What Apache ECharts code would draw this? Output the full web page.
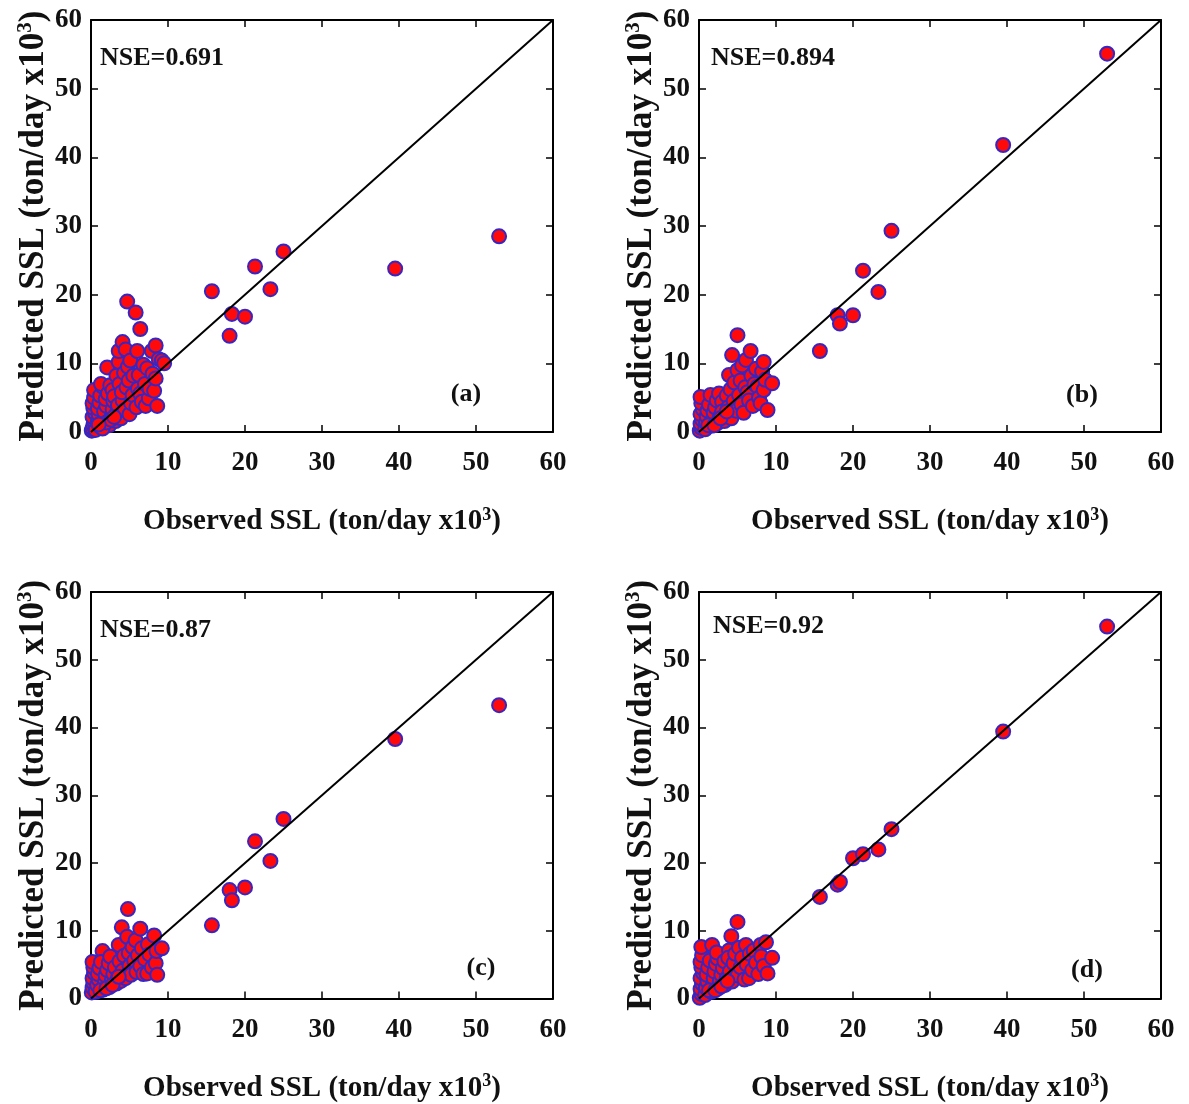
<!DOCTYPE html>
<html>
<head>
<meta charset="utf-8">
<script src="https://cdn.jsdelivr.net/npm/echarts@6/dist/echarts.min.js"></script>
<style>
  html, body { margin: 0; padding: 0; background: #ffffff; }
  #chart { width: 1189px; height: 1104px; }
</style>
</head>
<body>
<div id="chart"></div>
<script>
// Observed SSL of the large events (ton/day x10^3), common to all four models
const highObs = [15.7, 18.0, 18.3, 20.0, 21.3, 23.3, 25.0, 39.5, 53.0];
// Predicted SSL of those events for each model
const highPredA = [20.5, 14.0, 17.2, 16.8, 24.1, 20.8, 26.3, 23.8, 28.5];
const highPredB = [11.8, 17.0, 15.8, 17.0, 23.5, 20.4, 29.3, 41.8, 55.1];
const highPredC = [10.8, 16.0, 14.5, 16.4, 23.2, 20.3, 26.5, 38.3, 43.3];
const highPredD = [15.0, 16.8, 17.2, 20.7, 21.3, 22.0, 25.0, 39.4, 54.9];

// Low-flow pairs [observed, predicted]
const lowA = [
  [0.1,0.2],[0.2,0.5],[0.3,1.0],[0.4,1.5],[0.2,2.2],[0.5,2.8],[0.3,3.5],[0.2,4.2],[0.4,5.0],[0.4,6.1],
  [0.8,0.6],[0.9,1.6],[1.0,2.5],[0.9,3.4],[1.1,4.3],[1.2,5.3],[1.5,6.6],[1.3,7.0],[1.6,1.2],[1.8,2.1],
  [1.7,3.0],[2.0,3.8],[1.9,4.8],[2.2,5.6],[2.1,9.4],[2.5,6.8],[2.4,1.0],[2.7,2.4],[2.8,3.3],[2.9,4.5],
  [2.8,6.1],[3.0,5.2],[3.2,1.6],[3.4,2.8],[3.5,3.9],[3.6,10.2],[3.6,11.8],[3.3,8.2],[3.7,7.0],[3.9,2.0],
  [4.1,4.6],[4.1,13.1],[4.0,5.8],[4.3,8.6],[4.4,3.2],[4.6,6.5],[4.7,19.0],[4.5,12.0],[4.8,9.5],[4.9,7.5],
  [5.0,2.6],[5.1,10.4],[5.2,4.2],[5.4,5.4],[5.5,8.2],[5.8,17.4],[6.0,11.8],[5.9,3.6],[6.1,6.3],[6.2,8.3],
  [6.4,15.0],[6.4,5.6],[6.6,4.4],[6.8,9.8],[7.0,7.0],[7.1,3.8],[7.3,9.3],[7.5,4.9],[7.6,6.3],[7.9,11.8],
  [8.0,8.5],[8.2,6.0],[8.4,12.6],[8.4,7.8],[8.6,3.8],[8.8,10.6],[9.2,10.4],[9.5,10.0],
  [0.6,0.3],[1.2,0.8],[1.5,0.5],[2.0,1.4],[2.6,1.8],[3.0,2.2],[1.0,1.1]
];
const lowB = [
  [0.1,0.2],[0.3,0.6],[0.2,1.2],[0.4,1.8],[0.2,2.6],[0.5,3.3],[0.3,4.2],[0.2,5.1],[0.8,0.4],[0.9,1.4],
  [1.0,2.3],[1.1,3.1],[1.3,4.0],[1.5,5.4],[1.6,0.9],[1.8,1.8],[1.9,2.8],[2.1,3.6],[2.3,4.6],[2.6,5.6],
  [2.4,1.3],[2.7,2.2],[3.0,4.4],[3.0,3.0],[3.3,1.6],[3.5,2.5],[3.6,5.3],[3.9,8.3],[3.8,3.6],[4.1,6.2],
  [4.3,11.2],[4.2,2.0],[4.5,4.5],[4.6,7.2],[4.8,3.1],[5.0,14.1],[5.0,9.0],[5.2,5.4],[5.4,7.5],[5.5,4.0],
  [5.6,9.7],[5.8,2.8],[6.0,6.5],[6.1,10.5],[6.3,5.8],[6.5,4.6],[6.7,11.8],[6.8,8.2],[7.0,3.8],[7.2,7.0],
  [7.4,9.2],[7.6,6.6],[7.8,5.0],[8.0,4.2],[8.2,8.8],[8.4,10.2],[8.4,6.1],[8.6,7.6],[8.9,3.2],[9.5,7.1],
  [1.2,1.0],[2.0,1.0],[2.8,2.0],[3.6,3.0]
];
const lowC = [
  [0.1,0.9],[0.2,1.6],[0.3,2.3],[0.2,3.0],[0.4,3.8],[0.3,4.6],[0.2,5.4],[0.6,1.0],[0.8,2.0],[1.0,2.8],
  [0.9,3.6],[1.1,4.5],[1.5,7.0],[1.3,5.4],[1.6,1.3],[1.8,2.4],[1.9,3.4],[2.1,4.2],[2.3,5.2],[2.5,6.2],
  [2.4,1.7],[2.7,2.6],[2.9,3.6],[3.1,4.6],[3.3,2.2],[3.5,3.1],[3.6,7.9],[3.7,5.5],[3.9,2.6],[4.0,10.5],
  [4.1,4.1],[4.3,6.3],[4.5,3.0],[4.7,9.1],[4.8,13.2],[4.9,6.7],[5.0,4.8],[5.2,3.5],[5.4,7.6],[5.6,5.6],
  [5.8,8.6],[5.9,3.9],[6.1,6.4],[6.4,10.3],[6.4,4.8],[6.6,7.4],[6.8,3.6],[7.0,5.8],[7.3,3.7],[7.4,8.0],
  [7.6,6.5],[7.9,4.6],[8.2,9.3],[8.4,5.2],[8.5,7.0],[8.6,3.5],[9.2,7.4],[1.2,1.2],[2.0,1.5],[2.8,2.0],
  [3.6,3.2]
];
const lowD = [
  [0.1,0.1],[0.3,0.7],[0.2,1.4],[0.4,2.2],[0.2,3.0],[0.5,3.8],[0.3,4.6],[0.2,5.4],[0.4,6.4],[0.3,7.6],
  [0.8,0.5],[0.9,1.6],[1.1,2.5],[1.0,3.5],[1.2,4.6],[1.4,5.6],[1.7,7.9],[1.6,1.0],[1.8,2.0],[1.9,3.0],
  [2.0,4.0],[2.2,5.1],[2.4,5.9],[2.3,6.8],[2.5,1.5],[2.7,2.5],[2.9,3.5],[3.1,4.5],[3.3,5.5],[3.4,2.0],
  [3.6,3.0],[3.9,7.1],[3.8,6.0],[4.0,4.0],[4.2,9.2],[4.3,2.5],[4.5,5.2],[4.7,6.6],[5.0,11.3],[5.0,3.4],
  [5.2,7.5],[5.4,4.6],[5.6,6.0],[5.9,2.8],[6.1,7.9],[6.2,5.0],[6.5,3.0],[6.6,6.6],[6.9,4.2],[7.1,7.1],
  [7.4,5.3],[7.7,3.6],[8.0,7.9],[8.1,6.2],[8.4,4.8],[8.7,8.3],[8.9,3.7],[9.5,6.0],[1.3,1.2],[2.1,1.2],
  [2.9,1.8],[3.7,2.6]
];

const nseLabels = ['NSE=0.691', 'NSE=0.894', 'NSE=0.87', 'NSE=0.92'];
const panelTags = ['(a)', '(b)', '(c)', '(d)'];
const xTitle = 'Observed SSL (ton/day x10';
const yTitle = 'Predicted SSL (ton/day x10';

const lowSets = [lowA, lowB, lowC, lowD];
const highPreds = [highPredA, highPredB, highPredC, highPredD];

const FONT = '"Liberation Serif", "Times New Roman", serif';
const INK = '#111111';

// plot boxes
const grids = [
  { left: 91,  top: 20,  width: 462, height: 412 },
  { left: 699, top: 20,  width: 462, height: 412 },
  { left: 91,  top: 592, width: 462, height: 412 },
  { left: 699, top: 592, width: 462, height: 412 }
];

const nsePos = [[100, 45], [711, 45], [100, 617], [713, 613]];
const tagPos = [[466, 394], [1082, 395], [481, 968], [1087, 970]];

const titleRich = {
  t: { fontFamily: FONT, fontWeight: 'bold', fontSize: 29, color: INK },
  s: { fontFamily: FONT, fontWeight: 'bold', fontSize: 18, color: INK, verticalAlign: 'top', padding: [0, 0, 14, 0] }
};
const yTitleRich = {
  t: { fontFamily: FONT, fontWeight: 'bold', fontSize: 35, color: INK },
  s: { fontFamily: FONT, fontWeight: 'bold', fontSize: 21, color: INK, verticalAlign: 'top', padding: [0, 0, 17, 0] }
};

function baseAxis(gridIndex) {
  return {
    gridIndex,
    type: 'value',
    min: 0,
    max: 60,
    interval: 10,
    splitLine: { show: false },
    axisLine: { show: true, onZero: false, lineStyle: { color: '#000', width: 2 } },
    axisTick: { show: true, inside: true, length: 7, lineStyle: { color: '#000', width: 1.5 } }
  };
}

const xAxes = [], yAxes = [], series = [], graphics = [];

grids.forEach((g, i) => {
  xAxes.push(Object.assign(baseAxis(i), {
    position: 'bottom',
    name: '{t|' + xTitle + '}{s|3}{t|)}',
    nameLocation: 'middle',
    nameGap: 74,
    nameTextStyle: { rich: titleRich },
    axisLabel: { fontFamily: FONT, fontWeight: 'bold', fontSize: 27, color: INK, margin: 18 }
  }));
  xAxes.push(Object.assign(baseAxis(i), {
    position: 'top',
    axisLabel: { show: false }
  }));
  yAxes.push(Object.assign(baseAxis(i), {
    position: 'left',
    name: '{t|' + yTitle + '}{s|3}{t|)}',
    nameLocation: 'middle',
    nameRotate: 90,
    nameGap: 36,
    nameTextStyle: { rich: yTitleRich },
    axisLabel: { fontFamily: FONT, fontWeight: 'bold', fontSize: 27, color: INK, margin: 9 }
  }));
  yAxes.push(Object.assign(baseAxis(i), {
    position: 'right',
    axisLabel: { show: false }
  }));

  const marker = {
    type: 'scatter',
    xAxisIndex: i * 2,
    yAxisIndex: i * 2,
    symbol: 'circle',
    symbolSize: 14,
    itemStyle: { color: '#ff0a0a', borderColor: '#3826c2', borderWidth: 2, opacity: 1 },
    emphasis: { disabled: true },
    z: 2
  };
  series.push(Object.assign({}, marker, { data: lowSets[i] }));
  series.push(Object.assign({}, marker, {
    data: highObs.map((o, k) => [o, highPreds[i][k]])
  }));
  series.push({
    type: 'line',
    xAxisIndex: i * 2,
    yAxisIndex: i * 2,
    data: [[0, 0], [60, 60]],
    symbol: 'none',
    lineStyle: { color: '#000', width: 2 },
    z: 3,
    silent: true
  });

  graphics.push({
    type: 'text',
    x: nsePos[i][0],
    y: nsePos[i][1],
    style: { text: nseLabels[i], fontFamily: FONT, fontWeight: 'bold', fontSize: 26, fill: INK }
  });
  graphics.push({
    type: 'text',
    x: tagPos[i][0],
    y: tagPos[i][1],
    style: { text: panelTags[i], fontFamily: FONT, fontWeight: 'bold', fontSize: 26, fill: INK,
             align: 'center', verticalAlign: 'middle' }
  });
});

const chart = echarts.init(document.getElementById('chart'), null, { renderer: 'canvas' });
chart.setOption({
  animation: false,
  backgroundColor: '#ffffff',
  grid: grids,
  xAxis: xAxes,
  yAxis: yAxes,
  series: series,
  graphic: graphics
});
</script>
</body>
</html>
